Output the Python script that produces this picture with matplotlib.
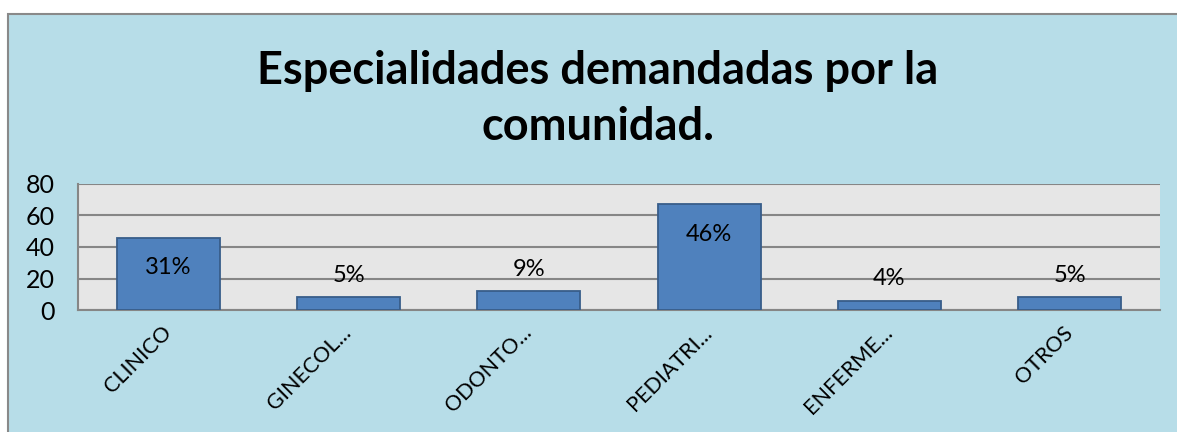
import matplotlib.pyplot as plt
from matplotlib.patches import Rectangle

categorias = ["CLINICO", "GINECOL...", "ODONTO...", "PEDIATRI...", "ENFERME...", "OTROS"]
valores = [46, 8, 12, 67, 6, 8]
etiquetas = ["31%", "5%", "9%", "46%", "4%", "5%"]
dentro = [True, False, False, True, False, False]
titulo = "Especialidades demandadas por la\ncomunidad."

plt.rcParams['font.family'] = ['Lato', 'DejaVu Sans']

fig = plt.figure(figsize=(11.77, 4.32), dpi=100)
fig.patch.set_facecolor('white')
marco = Rectangle((8 / 1177, -0.01), 1.0, 1 - 14 / 432 + 0.01, transform=fig.transFigure,
                  facecolor='#B7DDE8', edgecolor='#898989', linewidth=1.5, zorder=-10)
fig.patches.append(marco)

ax = fig.add_axes([78 / 1177, 1 - 310 / 432, (1160 - 78) / 1177, (310 - 184) / 432])
ax.set_facecolor('#E6E6E6')

x = range(len(categorias))
ax.bar(x, valores, width=0.57, color='#4F81BD', edgecolor='#385D8A', linewidth=1.3, zorder=3)

for i, (v, t, d) in enumerate(zip(valores, etiquetas, dentro)):
    y = v - 19 if d else v + 14
    ax.text(i, y, t, ha='center', va='center', fontsize=17, color='black', zorder=4)

ax.set_xlim(-0.5, len(categorias) - 0.5)
ax.set_ylim(0, 80)
ax.set_yticks([0, 20, 40, 60, 80])
ax.yaxis.grid(True, color='#868686', linewidth=1.5, zorder=1)
ax.set_axisbelow(True)
ax.tick_params(axis='y', length=0, pad=17, labelsize=18)
ax.tick_params(axis='x', length=0, pad=14, labelsize=15.5)
ax.set_xticks(list(x))
ax.set_xticklabels(categorias, rotation=45, ha='right', va='center', rotation_mode='anchor')

for s in ['top', 'right']:
    ax.spines[s].set_visible(False)
for s in ['left', 'bottom']:
    ax.spines[s].set_color('#868686')
    ax.spines[s].set_linewidth(1.5)

fig.text(0.508, 1 - 99 / 432, titulo, ha='center', va='center', fontsize=32.5,
         fontweight='bold', linespacing=1.42)

fig.savefig('out.png', dpi=100)
